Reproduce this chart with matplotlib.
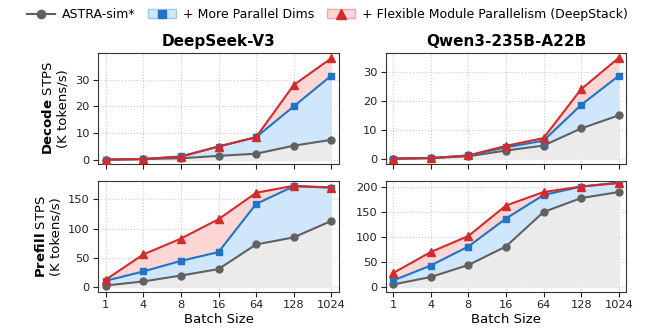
import numpy as np
import matplotlib
matplotlib.use('Agg')
import matplotlib.pyplot as plt
from matplotlib.patches import Patch
from matplotlib.lines import Line2D

batch = ['1', '4', '8', '16', '64', '128', '1024']
models = ['DeepSeek-V3', 'Qwen3-235B-A22B']

# decode STPS (K tokens/s)
ds_dec_astra = [0.1, 0.3, 0.6, 1.5, 2.3, 5.3, 7.5]
ds_dec_dims = [0.1, 0.3, 1.3, 5.0, 8.5, 20.0, 31.5]
ds_dec_flex = [0.1, 0.3, 1.2, 5.0, 8.5, 28.0, 38.0]
qw_dec_astra = [0.1, 0.3, 0.9, 2.9, 4.6, 10.5, 15.0]
qw_dec_dims = [0.1, 0.3, 1.2, 4.0, 6.3, 18.6, 28.6]
qw_dec_flex = [0.1, 0.3, 1.2, 4.5, 7.2, 24.0, 34.8]

# prefill STPS (K tokens/s)
ds_pre_astra = [3, 10, 20, 31, 73, 85, 113]
ds_pre_dims = [11, 27, 45, 60, 142, 172, 170]
ds_pre_flex = [13, 56, 83, 116, 161, 173, 170]
qw_pre_astra = [5, 20, 44, 81, 150, 178, 190]
qw_pre_dims = [13, 43, 81, 137, 184, 201, 209]
qw_pre_flex = [28, 70, 102, 163, 190, 201, 208]

gray = '#616161'
blue = '#1f74c8'
red = '#d22b2b'
gray_f = '#ebebeb'
blue_f = '#cfe6fb'
red_f = '#fdd6d6'

fig, axes = plt.subplots(2, 2, figsize=(6.55, 3.29), dpi=100)
fig.subplots_adjust(left=0.15, right=0.956, top=0.839, bottom=0.1125, hspace=0.155, wspace=0.195)

data = [[(ds_dec_astra, ds_dec_dims, ds_dec_flex), (qw_dec_astra, qw_dec_dims, qw_dec_flex)],
        [(ds_pre_astra, ds_pre_dims, ds_pre_flex), (qw_pre_astra, qw_pre_dims, qw_pre_flex)]]

x = np.arange(len(batch))
for r in range(2):
    for c in range(2):
        ax = axes[r][c]
        a, d, f = [np.array(v, dtype=float) for v in data[r][c]]
        ax.fill_between(x, 0, a, color=gray_f, lw=0, zorder=1)
        ax.fill_between(x, a, d, color=blue_f, lw=0, zorder=1)
        ax.fill_between(x, d, f, color=red_f, lw=0, zorder=1)
        ax.plot(x, a, '-o', color=gray, lw=1.5, ms=5, zorder=3)
        ax.plot(x, d, '-s', color=blue, lw=1.5, ms=5, zorder=4)
        ax.plot(x, f, '-^', color=red, lw=1.5, ms=5.5, zorder=5)
        ax.set_xticks(x)
        ax.set_xlim(-0.2, 6.2)
        ax.grid(True, ls=':', color='#cccccc', lw=0.8)
        ax.set_axisbelow(True)
        for s in ax.spines.values():
            s.set_color('#333333')
        ax.tick_params(labelsize=8.2, colors='#222222', length=3.5, pad=2.5)
        if r == 0:
            ax.set_xticklabels([])
            ax.set_title(models[c], fontweight='bold', fontsize=11, pad=5)
        else:
            ax.set_xticklabels(batch)
            ax.set_xlabel('Batch Size', fontsize=9.5, labelpad=2)

axes[0][0].set_ylim(-1.5, 40)
axes[0][1].set_ylim(-1.7, 36.5)
axes[1][0].set_ylim(-8, 181)
axes[1][1].set_ylim(-10, 212)
axes[0][0].set_yticks([0, 10, 20, 30])
axes[0][1].set_yticks([0, 10, 20, 30])
axes[1][0].set_yticks([0, 50, 100, 150])
axes[1][1].set_yticks([0, 50, 100, 150, 200])
axes[0][0].set_ylabel(r'$\bf{Decode}$ STPS' + '\n(K tokens/s)', fontsize=9.5)
axes[1][0].set_ylabel(r'$\bf{Prefill}$ STPS' + '\n(K tokens/s)', fontsize=9.5)

h1 = Line2D([], [], color=gray, marker='o', lw=1.5, ms=6)
h2 = (Patch(facecolor=blue_f, edgecolor='#9cc8ef'), Line2D([], [], color=blue, marker='s', ls='', ms=6))
h3 = (Patch(facecolor=red_f, edgecolor='#f0a8a8'), Line2D([], [], color=red, marker='^', ls='', ms=6.5))
fig.legend([h1, h2, h3], ['ASTRA-sim*', '+ More Parallel Dims', '+ Flexible Module Parallelism (DeepStack)'],
           loc='upper center', bbox_to_anchor=(0.5, 1.01), ncol=3, frameon=False, fontsize=9,
           handlelength=2.2, columnspacing=1.0, handletextpad=0.6)

fig.savefig('out.png')
